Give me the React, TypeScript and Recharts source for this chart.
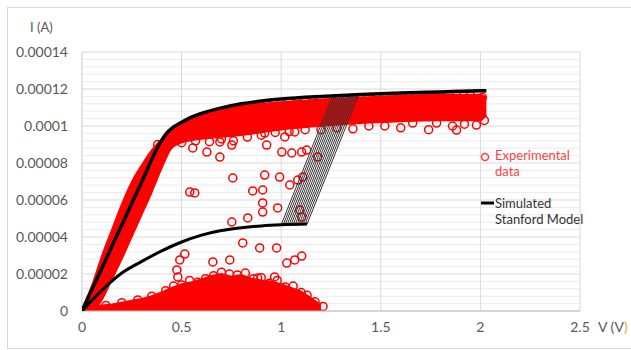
import React from "react";
import {
  ComposedChart,
  Area,
  Line,
  Scatter,
  XAxis,
  YAxis,
  CartesianGrid,
} from "recharts";

// current values are in µA, tick labels show amperes
const X_TICKS = [0, 0.5, 1, 1.5, 2, 2.5];
const Y_TICKS = [0, 20, 40, 60, 80, 100, 120, 140];
const Y_TICK_LABELS = ["0", "0.00002", "0.00004", "0.00006", "0.00008", "0.0001", "0.00012", "0.00014"];
const Y_MINOR = [4, 8, 12, 16, 24, 28, 32, 36, 44, 48, 52, 56, 64, 68, 72, 76, 84, 88, 92, 96, 104, 108, 112, 116, 124, 128, 132, 136];

// simulated Stanford model
const upperV = [0, 0.1, 0.2, 0.3, 0.38, 0.42, 0.46, 0.5, 0.55, 0.6, 0.7, 0.8, 0.9, 1.0, 1.2, 1.4, 1.6, 1.8, 2.0, 2.03];
const upperI = [0, 23.3, 46.5, 69.8, 88.5, 95.5, 99.5, 102, 104.8, 106.8, 109.8, 112, 113.5, 114.6, 116, 117, 117.8, 118.4, 119, 119.1];
const lowerV = [0, 0.05, 0.1, 0.15, 0.2, 0.3, 0.4, 0.5, 0.6, 0.7, 0.8, 0.9, 1.0, 1.13];
const lowerI = [0, 5.8, 11.2, 16.2, 20.5, 26.8, 32.5, 37.3, 41, 43.5, 45, 46, 46.6, 47];
const transStartV = [1.0, 1.01, 1.02, 1.03, 1.04, 1.05, 1.06, 1.07, 1.08, 1.09, 1.1, 1.11, 1.12, 1.13];
const transEndV = [1.26, 1.27, 1.28, 1.29, 1.3, 1.31, 1.32, 1.33, 1.34, 1.35, 1.36, 1.37, 1.38, 1.39];
const transStartI = [46.6, 46.6, 46.7, 46.7, 46.7, 46.8, 46.8, 46.8, 46.9, 46.9, 46.9, 47, 47, 47];
const transEndI = [116.8, 116.8, 116.9, 116.9, 116.9, 117, 117, 117, 117.1, 117.1, 117.1, 117.2, 117.2, 117.2];

// experimental data: dense regions
const bandV = [0, 0.05, 0.1, 0.15, 0.2, 0.25, 0.3, 0.35, 0.4, 0.45, 0.5, 0.6, 0.7, 0.8, 1.0, 1.2, 1.5, 1.8, 2.0, 2.03];
const bandHigh = [1, 14, 30, 44, 58, 70, 79, 87, 93, 98, 101.5, 106, 109, 111, 113, 114.5, 116, 117, 117, 115.5];
const bandLow = [0, 0, 6, 17, 28, 40, 52, 64, 77, 88, 91, 93, 94, 95, 98, 100, 102, 103, 103, 106];
const floorV = [0, 0.05, 0.1, 0.15, 0.2, 0.25, 0.3, 0.35, 0.4, 0.45, 0.5, 0.55, 0.6, 0.65, 0.7, 0.75, 0.8, 0.85, 0.9, 0.95, 1.0, 1.05, 1.1, 1.15, 1.2];
const floorHigh = [1.5, 2.5, 3, 3.5, 4.5, 5.5, 6.5, 8, 10, 12.5, 14.5, 15.5, 17, 19, 20, 18.5, 19.5, 17.5, 16.5, 16, 14.5, 12.5, 10.5, 7, 3];

// experimental data: individual markers
const pointV = [
  0.556, 0.627, 0.692, 0.692, 0.752, 0.757, 0.917, 1.018, 1.068, 0.927, 1.003, 1.053, 1.103, 1.128, 1.183,
  0.917, 0.992, 1.043, 1.083, 1.108, 0.907, 0.907, 0.907, 0.982, 1.093, 1.103, 0.541, 0.566, 0.857, 0.752,
  0.832, 0.807, 0.892, 0.977, 0.516, 0.491, 0.476, 0.481, 0.657, 0.742, 1.028, 1.068, 1.103, 0.882, 0.967,
  // upper band, top edge
  0.55, 0.62, 0.7, 0.78, 0.85, 0.93, 1.0, 1.08, 1.16, 1.24, 1.32, 1.4, 1.48, 1.56, 1.64, 1.72, 1.8, 1.88, 1.95, 2.01,
  // upper band, bottom edge
  0.5, 0.57, 0.64, 0.7, 0.76, 0.83, 0.9, 0.97, 1.04, 1.12, 1.2, 1.28, 1.36, 1.44, 1.52, 1.6, 1.66, 1.74, 1.78, 1.86, 1.88, 1.92, 1.98, 2.02,
  // steep band
  0.06, 0.14, 0.22, 0.3, 0.38,
  // low current cloud
  0.05, 0.12, 0.2, 0.28, 0.35, 0.42, 0.46, 0.5, 0.54, 0.58, 0.62, 0.66, 0.7, 0.74, 0.78, 0.82, 0.86, 0.9, 0.94, 0.98, 1.02, 1.06, 1.1, 1.13, 1.17, 1.21,
  0.1, 0.3, 0.5, 0.7, 0.9, 1.1,
];
const pointI = [
  88.1, 85.9, 83.2, 91.4, 89.7, 71.9, 96.2, 94.1, 96.8, 89.7, 85.9, 85.4, 85.9, 87, 83.2,
  73.5, 72.4, 68.1, 70.8, 72.4, 65.4, 58.4, 53.5, 55.7, 54.6, 50.8, 64.3, 63.8, 64.9, 48.1,
  50.3, 36.8, 34.1, 34.1, 30.8, 27.6, 22.2, 18.4, 26.5, 27.6, 25.9, 27.6, 29.7, 17.8, 18.4,
  102, 105, 107.5, 109.5, 111, 111.5, 112.5, 113, 113.5, 114, 114.5, 115, 115.5, 116, 116, 116.5, 116.5, 117, 116.5, 115.5,
  91, 92, 91.5, 93, 92, 94, 95, 96.5, 97, 98, 98, 99, 98.5, 100, 100, 99, 101.6, 98, 101.6, 100, 97.8, 101, 100.5, 103,
  10, 32, 52, 72, 90,
  2, 3, 4.5, 6, 8, 11, 13.5, 14, 16.5, 15.5, 17.5, 19, 21, 20, 19.5, 20.5, 17.5, 18, 15, 16.5, 13, 13.5, 10, 8.5, 5, 2.5,
  0.3, 0.3, 0.3, 0.3, 0.3, 0.3,
];

const RED = "#ff0000";
const TICK = { fill: "#595959", fontSize: 14, fontFamily: "Lato" };

const upperData = upperV.map((x, i) => ({ x, y: upperI[i] }));
const lowerData = lowerV.map((x, i) => ({ x, y: lowerI[i] }));
const bandData = bandV.map((x, i) => ({ x, r: [bandLow[i], bandHigh[i]] }));
const floorData = floorV.map((x, i) => ({ x, r: [0, floorHigh[i]] }));
const pointData = pointV.map((x, i) => ({ x, y: pointI[i] }));

const RingShape = (props: any) => (
  <circle cx={props.cx} cy={props.cy} r={4} fill="none" stroke={RED} strokeWidth={1.5} />
);

const minorGrid = ({ yAxis }: any) => {
  const s = yAxis && yAxis.scale;
  if (!s) return [];
  return Y_MINOR.map((v) => (typeof s === "function" ? s(v) : s.map(v)));
};

export default function App() {
  return (
    <div style={{ position: "absolute", left: 0, top: 0, width: 631, height: 350, background: "#fff", fontFamily: "Lato", overflow: "hidden" }}>
      <div style={{ position: "absolute", left: 7, top: 7, width: 630, height: 340, border: "1px solid #d9d9d9" }} />
      <div style={{ position: "absolute", left: 0, top: 0 }}>
        <ComposedChart width={631} height={350} margin={{ top: 52, right: 51, bottom: 19, left: 12 }}>
          <CartesianGrid vertical={false} stroke="#ececec" horizontalCoordinatesGenerator={minorGrid} />
          <CartesianGrid stroke="#d9d9d9" />
          <XAxis
            type="number"
            dataKey="x"
            domain={[0, 2.5]}
            ticks={X_TICKS}
            interval={0}
            allowDataOverflow
            tickLine={false}
            axisLine={{ stroke: "#bfbfbf" }}
            tick={TICK}
            tickMargin={5}
            height={20}
          />
          <YAxis
            type="number"
            dataKey="y"
            domain={[0, 140]}
            ticks={Y_TICKS}
            interval={0}
            allowDataOverflow
            tickFormatter={(v: number) => Y_TICK_LABELS[Y_TICKS.indexOf(v)]}
            tickLine={false}
            axisLine={{ stroke: "#d9d9d9" }}
            tick={TICK}
            tickMargin={8}
            width={70}
          />
          <Area data={floorData} dataKey="r" type="linear" fill={RED} fillOpacity={1} stroke={RED} strokeWidth={2} isAnimationActive={false} zIndex={100} />
          <Area data={bandData} dataKey="r" type="monotone" fill={RED} fillOpacity={1} stroke={RED} strokeWidth={1.5} isAnimationActive={false} zIndex={100} />
          <Scatter data={pointData} dataKey="y" shape={RingShape} isAnimationActive={false} zIndex={200} />
          {transStartV.map((v, i) => (
            <Line
              key={i}
              data={[
                { x: v, y: transStartI[i] },
                { x: transEndV[i], y: transEndI[i] },
              ]}
              dataKey="y"
              type="linear"
              stroke="#333"
              strokeWidth={1}
              dot={false}
              isAnimationActive={false}
              zIndex={700}
            />
          ))}
          <Line data={lowerData} dataKey="y" type="monotone" stroke="#000" strokeWidth={3} dot={false} isAnimationActive={false} zIndex={800} />
          <Line data={upperData} dataKey="y" type="monotone" stroke="#000" strokeWidth={3.5} dot={false} isAnimationActive={false} zIndex={800} />
        </ComposedChart>
      </div>
      <div style={{ position: "absolute", left: 30, top: 19, fontSize: 13, color: "#595959" }}>I (A)</div>
      <div style={{ position: "absolute", left: 598, top: 318, fontSize: 14, color: "#595959", whiteSpace: "nowrap" }}>
        V (V<span style={{ color: "#d9a05b" }}>)</span>
      </div>
      <svg style={{ position: "absolute", left: 478, top: 150 }} width={16} height={60}>
        <circle cx={7} cy={7} r={3.5} fill="none" stroke="#ff4040" strokeWidth={1.5} />
        <line x1={3} y1={53} x2={16} y2={53} stroke="#000" strokeWidth={3} />
      </svg>
      <div style={{ position: "absolute", left: 495, top: 147, fontSize: 13, lineHeight: "16px", color: "#ff4040" }}>
        Experimental
        <br />
        data
      </div>
      <div style={{ position: "absolute", left: 495, top: 195, fontSize: 13, lineHeight: "16px", color: "#333" }}>
        Simulated
        <br />
        Stanford Model
      </div>
    </div>
  );
}
